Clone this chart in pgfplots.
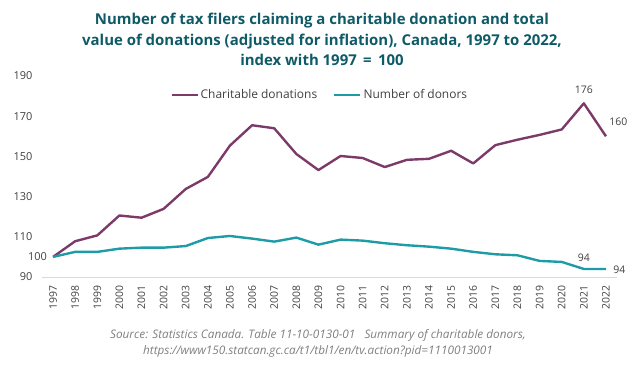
\documentclass[border=0pt]{standalone}
\usepackage{pgfplots}
\pgfplotsset{compat=1.18}
\usepackage{fontspec}
\setmainfont{Open Sans}
\definecolor{don}{HTML}{7B3A68}
\definecolor{num}{HTML}{1E9CA6}
\definecolor{ttl}{HTML}{0E5A66}
\definecolor{tk}{HTML}{404040}
\definecolor{src}{HTML}{7F7F7F}
\begin{document}
\begin{tikzpicture}
\useasboundingbox (-42bp,-98bp) rectangle (596bp,277bp);
\begin{axis}[
  at={(0,0)}, anchor=south west,
  scale only axis, width=575bp, height=201bp,
  xmin=1996.5, xmax=2022.5, ymin=90, ymax=190,
  xtick={1997,...,2022}, ytick={90,110,...,190},
  /pgf/number format/1000 sep={},
  /pgf/number format/assume math mode=true,
  axis x line*=bottom, axis y line*=left,
  y axis line style={draw=none},
  x axis line style={draw=black!15, line width=0.8pt, -},
  major tick length=0pt,
  xticklabel shift=5bp,
  x tick label style={rotate=90, anchor=east, font=\fontsize{10.5}{12}\selectfont, color=tk},
  y tick label style={font=\fontsize{11}{12}\selectfont, color=tk, xshift=-6bp},
  legend style={draw=none, fill=none, at={(0.483,0.905)}, anchor=center, legend columns=2,
    font=\fontsize{12}{14}\selectfont, text=tk,
    /tikz/every even column/.append style={column sep=14bp}},
  legend image code/.code={\draw[#1] (0bp,0bp) -- (26bp,0bp);},
  clip=false,
]
\addplot[don, line width=2.4pt, line join=round] coordinates {
(1997,100) (1998,107.8) (1999,110.7) (2000,120.6) (2001,119.5) (2002,123.9)
(2003,133.8) (2004,139.8) (2005,155.4) (2006,165.5) (2007,164.0) (2008,151.2)
(2009,143.2) (2010,150.2) (2011,149.2) (2012,144.7) (2013,148.3) (2014,148.8)
(2015,152.8) (2016,146.5) (2017,155.6) (2018,158.3) (2019,160.7) (2020,163.4)
(2021,176.4) (2022,160.0)};
\addlegendentry{Charitable donations}
\addplot[num, line width=2.4pt, line join=round] coordinates {
(1997,100) (1998,102.5) (1999,102.5) (2000,104.1) (2001,104.6) (2002,104.6)
(2003,105.4) (2004,109.4) (2005,110.4) (2006,109.1) (2007,107.6) (2008,109.6)
(2009,106.1) (2010,108.6) (2011,108.1) (2012,106.8) (2013,105.8) (2014,105.1)
(2015,104.1) (2016,102.5) (2017,101.3) (2018,100.8) (2019,98.0) (2020,97.5)
(2021,94.0) (2022,94.0)};
\addlegendentry{Number of donors}
\node[anchor=east, font=\fontsize{11}{12}\selectfont, text=tk, inner sep=1bp, xshift=-5bp] at (axis cs:1997,100) {100};
\node[anchor=south, font=\fontsize{10.5}{12}\selectfont, text=tk, yshift=6bp] at (axis cs:2021,176.4) {176};
\node[anchor=south west, font=\fontsize{10.5}{12}\selectfont, text=tk, xshift=0bp, yshift=7bp] at (axis cs:2022,160) {160};
\node[anchor=south, font=\fontsize{10.5}{12}\selectfont, text=tk, yshift=4bp] at (axis cs:2021,94) {94};
\node[anchor=west, font=\fontsize{10.5}{12}\selectfont, text=tk, xshift=4bp, yshift=-1bp] at (axis cs:2022,94) {94};
\end{axis}
\node[font=\fontsize{15}{20.5}\selectfont\bfseries, text=ttl, align=center, anchor=north, inner sep=0pt] at (280bp,264bp)
  {Number of tax filers claiming a charitable donation and total\\
   value of donations (adjusted for inflation), Canada, 1997 to 2022,\\
   index with 1997~\,=~\,100};
\node[font=\fontsize{11.8}{16}\selectfont\itshape, text=src, align=center, anchor=north, inner sep=0pt] at (276bp,-52bp)
  {Source: Statistics Canada. Table 11-10-0130-01\ \ \ Summary of charitable donors,\\
   https://www150.statcan.gc.ca/t1/tbl1/en/tv.action?pid=1110013001};
\end{tikzpicture}
\end{document}
